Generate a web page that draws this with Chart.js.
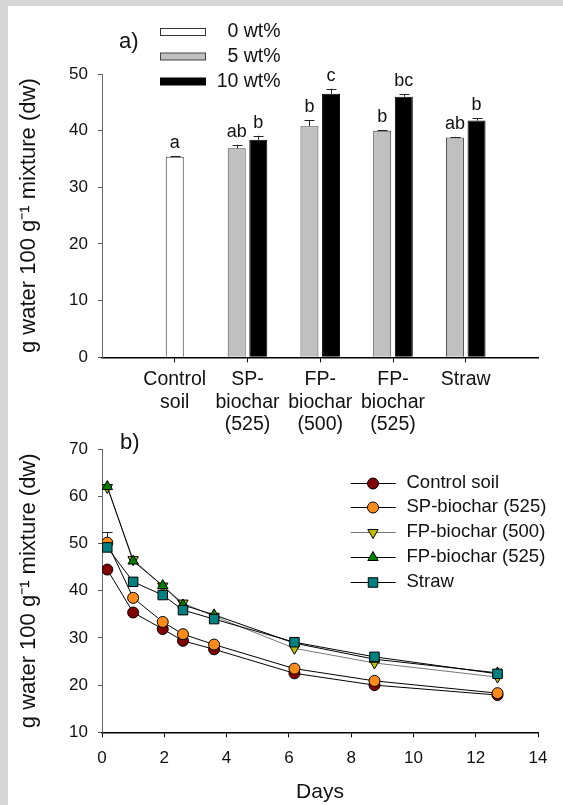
<!DOCTYPE html>
<html>
<head>
<meta charset="utf-8">
<script src="https://cdn.jsdelivr.net/npm/chart.js@4/dist/chart.umd.min.js"></script>
<style>
  html, body { margin: 0; padding: 0; width: 563px; height: 805px; overflow: hidden; background: #d6d6d6; }
  #panel { position: absolute; left: 8px; top: 6px; width: 555px; height: 799px; background: #fff; }
  canvas { position: absolute; left: 8px; }
  #chartA { top: 6px; }
  #chartB { top: 426px; }
</style>
</head>
<body>
<div id="panel"></div>
<canvas id="chartA" width="555" height="440"></canvas>
<canvas id="chartB" width="555" height="379"></canvas>
<script>
  // a) water holding capacity per amendment
  const categories = [['Control', 'soil'], ['SP-', 'biochar', '(525)'], ['FP-', 'biochar', '(500)'], ['FP-', 'biochar', '(525)'], ['Straw']];
  const wt0 = [35.4, null, null, null, null];
  const wt5 = [null, 36.9, 40.8, 40.0, 38.8];
  const wt10 = [null, 38.4, 46.5, 46.0, 41.8];
  const wt0Err = [0.1, null, null, null, null];
  const wt5Err = [null, 0.6, 1.1, 0.1, 0.1];
  const wt10Err = [null, 0.7, 0.9, 0.5, 0.4];
  const wt0Letters = ['a', null, null, null, null];
  const wt5Letters = [null, 'ab', 'b', 'b', 'ab'];
  const wt10Letters = [null, 'b', 'c', 'bc', 'b'];
  const legendA = ['0 wt%', '5 wt%', '10 wt%'];

  // b) drying curves
  const days = [0.17, 1.0, 1.95, 2.6, 3.6, 6.18, 8.75, 12.7];
  const controlSoil = [44.5, 35.4, 31.9, 29.4, 27.6, 22.5, 20.0, 17.9];
  const spBiochar525 = [50.2, 38.5, 33.4, 30.8, 28.6, 23.5, 20.9, 18.3];
  const fpBiochar500 = [61.9, 46.6, 41.0, 37.4, 34.6, 27.8, 24.7, 21.7];
  const fpBiochar525 = [62.1, 46.3, 41.1, 37.0, 34.9, 28.9, 25.5, 22.6];
  const straw = [49.2, 41.9, 39.1, 35.9, 34.0, 29.1, 26.0, 22.4];
  const spBiochar525Err = [2.2, null, null, null, null, null, null, null];

  const FONT = "'Liberation Sans', Arial, Helvetica, sans-serif";
  Chart.defaults.font.family = FONT;
  Chart.defaults.color = '#111';

  const pad = arr => [null, ...arr, null];
  const yTitle = 'g water 100 g\u207B\u00B9 mixture (dw)';

  const barExtras = {
    id: 'barExtras',
    afterDatasetsDraw(chart) {
      const ctx = chart.ctx, y = chart.scales.y;
      ctx.save();
      ctx.strokeStyle = '#222';
      ctx.lineWidth = 1;
      ctx.fillStyle = '#111';
      ctx.font = '18px ' + FONT;
      ctx.textAlign = 'center';
      ctx.textBaseline = 'alphabetic';
      chart.data.datasets.forEach((ds, i) => {
        chart.getDatasetMeta(i).data.forEach((bar, j) => {
          const v = ds.data[j];
          if (v == null) return;
          const top = y.getPixelForValue(v + (ds.err[j] || 0));
          const cx = Math.round(bar.x) + 0.5;
          ctx.beginPath();
          ctx.moveTo(cx, bar.y);
          ctx.lineTo(cx, top);
          ctx.moveTo(cx - 5, Math.round(top) + 0.5);
          ctx.lineTo(cx + 5, Math.round(top) + 0.5);
          ctx.stroke();
          if (ds.letters[j]) ctx.fillText(ds.letters[j], bar.x, top - 8);
        });
      });
      ctx.restore();
    },
    afterDraw(chart) {
      const ctx = chart.ctx;
      ctx.save();
      ctx.font = '22px ' + FONT;
      ctx.fillStyle = '#111';
      ctx.textBaseline = 'middle';
      ctx.fillText('a)', 111, 36);
      ctx.font = '19.5px ' + FONT;
      ctx.textAlign = 'right';
      const rows = [26, 50.5, 75.5];
      chart.data.datasets.forEach((ds, i) => {
        ctx.fillStyle = ds.backgroundColor;
        ctx.fillRect(152, rows[i] - 3.5, 46, 7);
        ctx.strokeStyle = ds.borderColor;
        ctx.lineWidth = 1;
        ctx.strokeRect(152.5, rows[i] - 3.5, 45, 7);
        ctx.fillStyle = '#111';
        ctx.fillText(legendA[i], 272.6, rows[i]);
      });
      ctx.restore();
    }
  };

  const barCommon = { skipNull: true, categoryPercentage: 0.594, barPercentage: 1, maxBarThickness: 18, borderWidth: 1, borderSkipped: 'start' };

  new Chart(document.getElementById('chartA'), {
    type: 'bar',
    data: {
      labels: ['', ...categories, ''],
      datasets: [
        { label: legendA[0], data: pad(wt0), err: pad(wt0Err), letters: pad(wt0Letters), backgroundColor: '#ffffff', borderColor: '#333333', ...barCommon },
        { label: legendA[1], data: pad(wt5), err: pad(wt5Err), letters: pad(wt5Letters), backgroundColor: '#c0c0c0', borderColor: '#444444', ...barCommon },
        { label: legendA[2], data: pad(wt10), err: pad(wt10Err), letters: pad(wt10Letters), backgroundColor: '#000000', borderColor: '#000000', ...barCommon }
      ]
    },
    options: {
      responsive: false,
      devicePixelRatio: 1,
      animation: false,
      layout: { padding: { left: 0, right: 24.5, top: 68, bottom: 0 } },
      plugins: { legend: { display: false }, tooltip: { enabled: false } },
      scales: {
        x: {
          type: 'category',
          offset: false,
          grid: {
            offset: false, drawOnChartArea: false, tickLength: 5,
            tickColor: c => (c.index === 0 || c.index === 6) ? 'rgba(0,0,0,0)' : '#000'
          },
          border: { color: '#000', width: 1.5 },
          ticks: { autoSkip: false, maxRotation: 0, padding: 6, font: { size: 19.5, lineHeight: 1.16 } },
          afterFit: s => { s.height = 88.7; }
        },
        y: {
          min: 0, max: 50,
          ticks: { stepSize: 10, padding: 10, font: { size: 17 } },
          grid: { drawOnChartArea: false, tickLength: 4, tickColor: '#555' },
          border: { color: '#666' },
          title: { display: true, text: yTitle, font: { size: 22 }, padding: { top: 8, bottom: 0 } },
          afterFit: s => { s.width = 94; }
        }
      }
    },
    plugins: [barExtras]
  });

  const seriesB = [
    { label: 'Control soil', values: controlSoil, color: '#800000', line: '#000', style: 'circle', rot: 0, r: 5.5 },
    { label: 'SP-biochar (525)', values: spBiochar525, color: '#ff8c1a', line: '#000', style: 'circle', rot: 0, r: 5.5, err: spBiochar525Err },
    { label: 'FP-biochar (500)', values: fpBiochar500, color: '#bfbf00', line: '#777', style: 'triangle', rot: 180, r: 6 },
    { label: 'FP-biochar (525)', values: fpBiochar525, color: '#008000', line: '#000', style: 'triangle', rot: 0, r: 6 },
    { label: 'Straw', values: straw, color: '#008080', line: '#000', style: 'rect', rot: 0, r: 6.7 }
  ];

  const lineExtras = {
    id: 'lineExtras',
    beforeDatasetsDraw(chart) {
      const ctx = chart.ctx, x = chart.scales.x, y = chart.scales.y;
      ctx.save();
      ctx.strokeStyle = '#222';
      ctx.lineWidth = 1;
      seriesB.forEach(s => {
        if (!s.err) return;
        s.err.forEach((e, i) => {
          if (e == null) return;
          const px = Math.round(x.getPixelForValue(days[i])) + 0.5;
          const top = Math.round(y.getPixelForValue(s.values[i] + e)) + 0.5;
          ctx.beginPath();
          ctx.moveTo(px, y.getPixelForValue(s.values[i]));
          ctx.lineTo(px, top);
          ctx.moveTo(px - 5, top);
          ctx.lineTo(px + 5, top);
          ctx.stroke();
        });
      });
      ctx.restore();
    },
    afterDraw(chart) {
      const ctx = chart.ctx;
      ctx.save();
      ctx.font = '22px ' + FONT;
      ctx.fillStyle = '#111';
      ctx.textBaseline = 'middle';
      ctx.fillText('b)', 112, 17);
      ctx.font = '18.5px ' + FONT;
      const rows = [57, 81, 106, 131, 156];
      seriesB.forEach((s, i) => {
        const yy = rows[i];
        ctx.strokeStyle = s.line;
        ctx.lineWidth = 1;
        ctx.beginPath();
        ctx.moveTo(342.7, yy + 0.5);
        ctx.lineTo(387.7, yy + 0.5);
        ctx.stroke();
        ctx.fillStyle = s.color;
        ctx.strokeStyle = '#000';
        Chart.helpers.drawPoint(ctx, { pointStyle: s.style, rotation: s.rot, radius: s.r, borderWidth: 1 }, 365, yy + 0.5);
        ctx.fillStyle = '#111';
        ctx.fillText(s.label, 398.5, yy);
      });
      ctx.restore();
    }
  };

  new Chart(document.getElementById('chartB'), {
    type: 'line',
    data: {
      datasets: seriesB.map((s, k) => ({
        label: s.label,
        data: days.map((d, i) => ({ x: d, y: s.values[i] })),
        borderColor: s.line,
        borderWidth: 1,
        pointStyle: s.style,
        pointRotation: s.rot,
        pointRadius: s.r,
        pointBackgroundColor: s.color,
        pointBorderColor: '#000',
        pointBorderWidth: 1,
        fill: false,
        tension: 0,
        order: seriesB.length - 1 - k
      }))
    },
    options: {
      responsive: false,
      devicePixelRatio: 1,
      animation: false,
      layout: { padding: { left: 0, right: 25, top: 23.3, bottom: 0 } },
      plugins: { legend: { display: false }, tooltip: { enabled: false } },
      scales: {
        x: {
          type: 'linear', min: 0, max: 14,
          ticks: { stepSize: 2, padding: 11, font: { size: 17 } },
          grid: { drawOnChartArea: false, tickLength: 5, tickColor: '#000' },
          border: { color: '#000', width: 1.5 },
          title: { display: true, text: 'Days', font: { size: 21 }, padding: { top: 0, bottom: 0 } },
          afterFit: s => { s.height = 72.7; }
        },
        y: {
          min: 10, max: 70,
          ticks: { stepSize: 10, padding: 10, font: { size: 17 } },
          grid: { drawOnChartArea: false, tickLength: 4, tickColor: '#555' },
          border: { color: '#666' },
          title: { display: true, text: yTitle, font: { size: 22 }, padding: { top: 8, bottom: 0 } },
          afterFit: s => { s.width = 94; }
        }
      }
    },
    plugins: [lineExtras]
  });
</script>
</body>
</html>
